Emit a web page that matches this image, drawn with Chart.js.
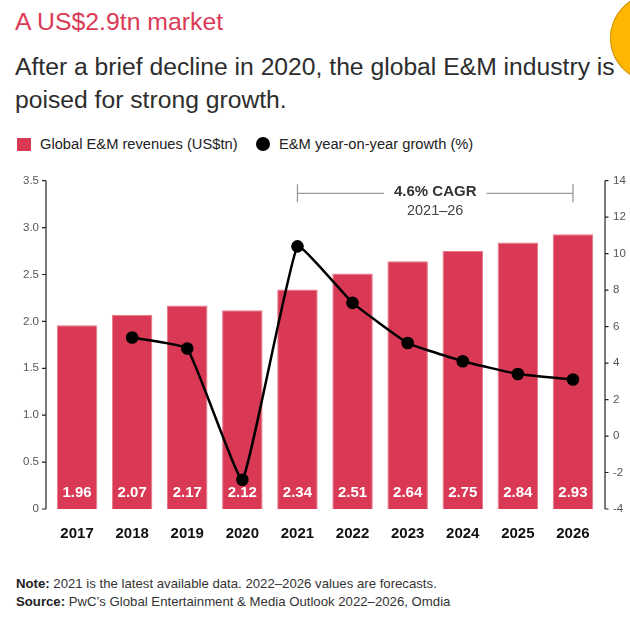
<!DOCTYPE html>
<html>
<head>
<meta charset="utf-8">
<style>
  html, body { margin: 0; padding: 0; background: #fff; }
  body { width: 630px; height: 623px; position: relative; overflow: hidden;
         font-family: 'Liberation Sans', Arial, sans-serif; color: #2d2d2d; }
  .abs { position: absolute; white-space: nowrap; }
  #title { left: 15px; top: 7px; font-size: 24.8px; line-height: 30px; color: #db3a56; }
  #subtitle { left: 15px; top: 49.5px; font-size: 24.7px; line-height: 33px; color: #2d2d2d; }
  #blob { left: 610px; top: -6px; width: 88px; height: 88px; border-radius: 50%;
          background: #ffb600; box-shadow: inset 0 0 0 1px #c99212; }
  .legend { top: 134px; font-size: 14.7px; line-height: 20px; color: #222; }
  .swatch { position: absolute; }
  #sw1 { left: 17px; top: 138px; width: 14px; height: 13px; background: #d93954; }
  #sw2 { left: 256px; top: 137px; width: 14px; height: 14px; border-radius: 50%; background: #000; }
  #chartBox { position: absolute; left: 0; top: 160px; width: 630px; height: 400px; }
  #notes { left: 16px; top: 575px; font-size: 13.2px; line-height: 18px; color: #333; }
  #notes b { color: #222; }
</style>
</head>
<body>
  <div class="abs" id="blob"></div>
  <div class="abs" id="title">A US$2.9tn market</div>
  <div class="abs" id="subtitle">After a brief decline in 2020, the global E&amp;M industry is<br>poised for strong growth.</div>

  <div class="swatch" id="sw1"></div>
  <div class="abs legend" style="left:40px">Global E&amp;M revenues (US$tn)</div>
  <div class="swatch" id="sw2"></div>
  <div class="abs legend" style="left:279px">E&amp;M year-on-year growth (%)</div>

  <div id="chartBox"><canvas id="chart"></canvas></div>

  <div class="abs" id="notes"><b>Note:</b> 2021 is the latest available data. 2022–2026 values are forecasts.<br><b>Source:</b> PwC’s Global Entertainment &amp; Media Outlook 2022–2026, Omdia</div>

  <script src="https://cdn.jsdelivr.net/npm/chart.js"></script>
  <script>
    // data
    const years = ['2017', '2018', '2019', '2020', '2021', '2022', '2023', '2024', '2025', '2026'];
    const revenues = [1.96, 2.07, 2.17, 2.12, 2.34, 2.51, 2.64, 2.75, 2.84, 2.93];
    const growth = [null, 5.4, 4.8, -2.4, 10.4, 7.3, 5.1, 4.1, 3.4, 3.1];
    const cagrText = '4.6% CAGR';
    const cagrPeriod = '2021–26';
    const cagrFrom = '2021';
    const cagrTo = '2026';

    const FONT = "'Liberation Sans', Arial, sans-serif";
    const BAR_RED = '#d93954';

    // axis lines, bar value labels and the CAGR bracket
    const decor = {
      id: 'decor',
      afterDatasetsDraw(chart) {
        const { ctx, scales } = chart;
        const yl = scales.y, yr = scales.y1, x = scales.x;
        ctx.save();

        // axis lines sit a few px outside the chart area
        ctx.strokeStyle = '#222';
        ctx.lineWidth = 1.2;
        const lx = chart.chartArea.left - 3.5;
        const rx = chart.chartArea.right + 4.5;
        ctx.beginPath();
        ctx.moveTo(lx, yl.top); ctx.lineTo(lx, yl.bottom);
        yl.ticks.forEach(t => {
          const y = yl.getPixelForValue(t.value);
          ctx.moveTo(lx - 4, y); ctx.lineTo(lx, y);
        });
        ctx.moveTo(rx, yr.top); ctx.lineTo(rx, yr.bottom);
        yr.ticks.forEach(t => {
          const y = yr.getPixelForValue(t.value);
          ctx.moveTo(rx, y); ctx.lineTo(rx + 3.5, y);
        });
        ctx.stroke();

        // values inside the bars
        ctx.fillStyle = '#fff';
        ctx.font = 'bold 15px ' + FONT;
        ctx.textAlign = 'center';
        ctx.textBaseline = 'middle';
        chart.getDatasetMeta(1).data.forEach((bar, i) => {
          ctx.fillText(revenues[i].toFixed(2), bar.x, yl.bottom - 16.5);
        });

        // CAGR bracket
        const x1 = x.getPixelForValue(years.indexOf(cagrFrom));
        const x2 = x.getPixelForValue(years.indexOf(cagrTo));
        const by = chart.chartArea.top + 12.6;
        const mid = (x1 + x2) / 2;
        ctx.font = 'bold 15px ' + FONT;
        const half = ctx.measureText(cagrText).width / 2 + 10;
        ctx.strokeStyle = '#9a9a9a';
        ctx.lineWidth = 1.3;
        ctx.beginPath();
        ctx.moveTo(x1, by - 9); ctx.lineTo(x1, by + 9);
        ctx.moveTo(x2, by - 9); ctx.lineTo(x2, by + 9);
        ctx.moveTo(x1, by); ctx.lineTo(mid - half, by);
        ctx.moveTo(mid + half, by); ctx.lineTo(x2, by);
        ctx.stroke();
        ctx.fillStyle = '#333';
        ctx.fillText(cagrText, mid, by - 1);
        ctx.font = '14.5px ' + FONT;
        ctx.fillStyle = '#444';
        ctx.fillText(cagrPeriod, mid, by + 18);

        ctx.restore();
      }
    };

    new Chart(document.getElementById('chart'), {
      data: {
        labels: years,
        datasets: [
          {
            type: 'line',
            label: 'E&M year-on-year growth (%)',
            data: growth,
            yAxisID: 'y1',
            order: 0,
            borderColor: '#000',
            borderWidth: 2.5,
            backgroundColor: '#000',
            pointBackgroundColor: '#000',
            pointBorderWidth: 0,
            pointRadius: 6.3,
            tension: 0.1
          },
          {
            type: 'bar',
            label: 'Global E&M revenues (US$tn)',
            data: revenues,
            yAxisID: 'y',
            order: 1,
            backgroundColor: BAR_RED,
            borderColor: '#e7798b',
            borderWidth: 1,
            categoryPercentage: 1,
            barPercentage: 0.735
          }
        ]
      },
      options: {
        responsive: true,
        maintainAspectRatio: false,
        animation: false,
        layout: { padding: { top: 20.7, left: 0, right: 0, bottom: 0 } },
        plugins: { legend: { display: false }, tooltip: { enabled: false } },
        scales: {
          x: {
            grid: { display: false, drawTicks: false },
            border: { display: false },
            ticks: { color: '#111', font: { family: FONT, size: 15, weight: 'bold' }, padding: 16 },
            afterFit: s => { s.height = 51; }
          },
          y: {
            position: 'left',
            min: 0,
            max: 3.5,
            grid: { display: false, drawTicks: false },
            border: { display: false },
            ticks: {
              stepSize: 0.5,
              padding: 10.5,
              color: '#555',
              font: { family: FONT, size: 11.5 },
              callback: v => v === 0 ? '0' : v.toFixed(1)
            },
            afterFit: s => { s.width = 49.5; }
          },
          y1: {
            position: 'right',
            min: -4,
            max: 14,
            grid: { display: false, drawTicks: false },
            border: { display: false },
            ticks: { stepSize: 2, padding: 12.5, color: '#555', font: { family: FONT, size: 11.5 } },
            afterFit: s => { s.width = 29.5; }
          }
        }
      },
      plugins: [decor]
    });
  </script>
</body>
</html>
